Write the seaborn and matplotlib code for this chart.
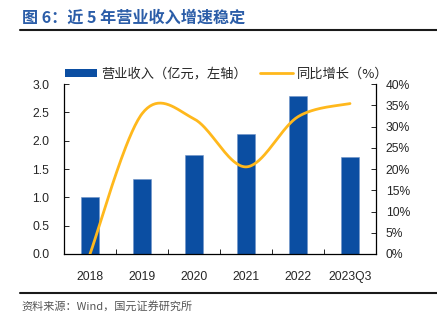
import numpy as np
import pandas as pd
import matplotlib
matplotlib.use("Agg")
import matplotlib.pyplot as plt
from matplotlib.lines import Line2D
from matplotlib.patches import Patch
import seaborn as sns

# ---- data ----
periods = ["2018", "2019", "2020", "2021", "2022", "2023Q3"]
revenue = [1.00, 1.33, 1.75, 2.12, 2.79, 1.71]          # 亿元
growth = [0.0, 33.0, 31.8, 20.5, 32.3, 35.4]             # %
left_ticks = [0.0, 0.5, 1.0, 1.5, 2.0, 2.5, 3.0]
right_ticks = [0, 5, 10, 15, 20, 25, 30, 35, 40]

BAR_BLUE = "#0B4EA2"
LINE_GOLD = "#FFB81C"
TITLE_BLUE = "#2B5DA8"

sns.set_theme(style="white")
plt.rcParams["font.family"] = ["Liberation Sans", "Noto Sans CJK SC", "DejaVu Sans"]
CJK = ["Noto Sans CJK SC", "DejaVu Sans"]

fig = plt.figure(figsize=(4.37, 3.26), dpi=100)
ax = fig.add_axes([64 / 437, 72 / 326, 312 / 437, 170 / 326])

df = pd.DataFrame({"period": periods, "revenue": revenue})
sns.barplot(data=df, x="period", y="revenue", color=BAR_BLUE, width=0.34,
            saturation=1, edgecolor="#6f94c8", linewidth=0.4, ax=ax)
ax.set_xlim(-0.5, len(periods) - 0.5)
ax.set_ylim(0, 3.0)
ax.set_yticks(left_ticks)
ax.set_yticklabels([f"{v:.1f}" for v in left_ticks])
ax.set_xlabel("")
ax.set_ylabel("")


def smooth_curve(xs, ys, n=40):
    """Cubic Bezier smoothing through the points (spreadsheet-style)."""
    pts = np.column_stack([xs, ys]).astype(float)
    out = []
    for i in range(len(pts) - 1):
        p0 = pts[i - 1] if i > 0 else pts[i]
        p1, p2 = pts[i], pts[i + 1]
        p3 = pts[i + 2] if i + 2 < len(pts) else pts[i + 1]
        c1 = p1 + (p2 - p0) / 6.0
        c2 = p2 - (p3 - p1) / 6.0
        t = np.linspace(0, 1, n)[:, None]
        seg = ((1 - t) ** 3) * p1 + 3 * ((1 - t) ** 2) * t * c1 \
            + 3 * (1 - t) * t ** 2 * c2 + t ** 3 * p2
        out.append(seg if i == 0 else seg[1:])
    return np.vstack(out)


ax2 = ax.twinx()
curve = smooth_curve(np.arange(len(periods)), growth)
cdf = pd.DataFrame({"x": curve[:, 0], "g": curve[:, 1]})
sns.lineplot(data=cdf, x="x", y="g", sort=False, color=LINE_GOLD,
             linewidth=2.0, ax=ax2)
ax2.set_ylim(0, 40)
ax2.set_yticks(right_ticks)
ax2.set_yticklabels([f"{v}%" for v in right_ticks])
ax2.set_xlim(-0.5, len(periods) - 0.5)
ax2.set_xlabel("")
ax2.set_ylabel("")

# spines and ticks
for a in (ax, ax2):
    a.spines["top"].set_visible(False)
    for s in ("left", "right", "bottom"):
        a.spines[s].set_color("black")
        a.spines[s].set_linewidth(0.9)
    a.grid(False)
ax.spines["right"].set_visible(False)
ax2.spines["left"].set_visible(False)
ax2.spines["bottom"].set_visible(False)

ax.tick_params(axis="y", direction="in", length=3.5, width=0.6, color="black",
               labelsize=8.7, pad=10.5, left=True)
ax2.tick_params(axis="y", direction="in", length=3.5, width=0.6, color="black",
                labelsize=8.7, pad=7, right=True)
ax.tick_params(axis="x", which="major", bottom=False, labelsize=8.7, pad=6)
ax.set_xticks(np.arange(len(periods) + 1) - 0.5, minor=True)
ax.tick_params(axis="x", which="minor", direction="in", length=3.5, width=0.6,
               color="black", bottom=True)

# legend
handles = [Patch(facecolor=BAR_BLUE, edgecolor="none"),
           Line2D([0], [0], color=LINE_GOLD, lw=2.0)]
labels = ["营业收入（亿元，左轴）", "同比增长（%）"]
fig.legend(handles, labels, loc="center left", bbox_to_anchor=(65 / 437, 1 - 74 / 326),
           ncol=2, frameon=False, prop={"family": CJK, "size": 9.5},
           handlelength=2.45, handleheight=0.5, handletextpad=0.3,
           columnspacing=1.0, borderaxespad=0, borderpad=0)

# title, rules and source
fig.text(22 / 437, 1 - 18 / 326, "图 6：近 5 年营业收入增速稳定", color=TITLE_BLUE,
         fontsize=11.6, fontweight="bold", family=CJK, va="center", ha="left")
fig.add_artist(Line2D([20 / 437, 1], [1 - 29.5 / 326] * 2, color="#1a1a1a", lw=1.5))
fig.add_artist(Line2D([20 / 437, 1], [1 - 292.5 / 326] * 2, color="#1a1a1a", lw=1.5))
fig.text(21 / 437, 1 - 306.5 / 326, "资料来源：Wind，国元证券研究所", color="#555555",
         fontsize=8.0, family=CJK, va="center", ha="left")

fig.savefig("out.png", dpi=100)
